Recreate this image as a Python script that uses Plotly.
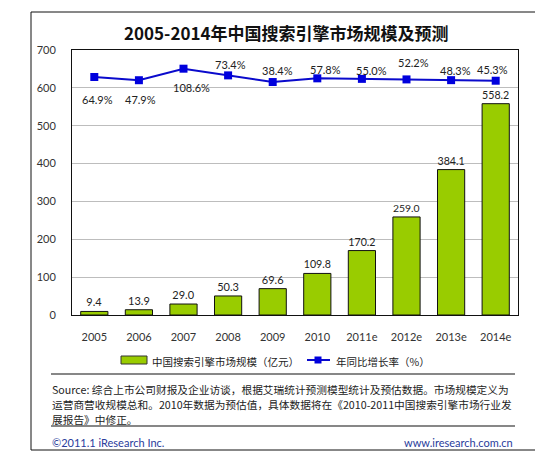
import plotly.graph_objects as go

# ---- data ----
years = ["2005", "2006", "2007", "2008", "2009", "2010", "2011e", "2012e", "2013e", "2014e"]
market_size = [9.4, 13.9, 29.0, 50.3, 69.6, 109.8, 170.2, 259.0, 384.1, 558.2]
growth_rate = [64.9, 47.9, 108.6, 73.4, 38.4, 57.8, 55.0, 52.2, 48.3, 45.3]
y_ticks = [0, 100, 200, 300, 400, 500, 600, 700]

title_text = "2005-2014年中国搜索引擎市场规模及预测"
bar_name = "中国搜索引擎市场规模（亿元）"
line_name = "年同比增长率（%）"
source_lines = [
    "Source: 综合上市公司财报及企业访谈，根据艾瑞统计预测模型统计及预估数据。市场规模定义为",
    "运营商营收规模总和。2010年数据为预估值，具体数据将在《2010-2011中国搜索引擎市场行业发",
    "展报告》中修正。",
]
footer_left = "©2011.1 iResearch Inc."
footer_right = "www.iresearch.com.cn"

# label offsets (style)
pct_yshift = [-23, -19, -19, 11, 12, 9, 8, 17, 10, 11]
pct_xshift = [3, 2, 8, 2, 5, 8, 10, 7, 4, -3]

W, H = 543, 455
L, R, T, B = 64, 510, 42, 307
FONT = "Lato, 'Noto Sans CJK SC', sans-serif"
CJK = "'Noto Sans CJK SC', sans-serif"


def px(x):
    return (x - L) / (R - L)


def py(y):
    return (B - y) / (B - T)


fig = go.Figure()
fig.add_trace(go.Bar(
    x=years, y=market_size, name=bar_name,
    marker=dict(color="#99CC00", line=dict(color="#111111", width=1)),
    width=0.61,
    text=[f"{v:.1f}" for v in market_size], textposition="outside",
    textfont=dict(size=11, color="#222222", family=FONT),
    cliponaxis=False,
))
fig.add_trace(go.Scatter(
    x=years, y=growth_rate, name=line_name, yaxis="y2",
    mode="lines+markers",
    line=dict(color="#0A0ACC", width=2),
    marker=dict(symbol="square", size=8, color="#0000DD"),
))

annotations = []
for i, (g, ys, xs) in enumerate(zip(growth_rate, pct_yshift, pct_xshift)):
    annotations.append(dict(
        x=i, y=g, xref="x", yref="y2", text=f"{g:.1f}%", showarrow=False,
        yshift=ys, xshift=xs, font=dict(size=11, color="#222222", family=FONT),
    ))

annotations.append(dict(
    x=px(278), y=py(24), xref="paper", yref="paper", text=f"<b>{title_text}</b>",
    showarrow=False, xanchor="center", yanchor="middle",
    font=dict(size=17, color="#111111", family=CJK),
))

# legend (custom)
shapes = []
shapes.append(dict(type="rect", xref="paper", yref="paper",
                   x0=px(113), x1=px(139), y0=py(356), y1=py(348),
                   fillcolor="#99CC00", line=dict(color="#333333", width=1)))
shapes.append(dict(type="line", xref="paper", yref="paper",
                   x0=px(299), x1=px(322), y0=py(352), y1=py(352),
                   line=dict(color="#0A0ACC", width=2)))
shapes.append(dict(type="rect", xref="paper", yref="paper",
                   x0=px(306.5), x1=px(313.5), y0=py(355.5), y1=py(348.5),
                   fillcolor="#0000DD", line=dict(width=0)))
annotations.append(dict(x=px(142), y=py(353), xref="paper", yref="paper", text=bar_name,
                        showarrow=False, xanchor="left", yanchor="middle",
                        font=dict(size=10.5, color="#222222", family=CJK)))
annotations.append(dict(x=px(326), y=py(353), xref="paper", yref="paper", text=line_name,
                        showarrow=False, xanchor="left", yanchor="middle",
                        font=dict(size=10.5, color="#222222", family=CJK)))

# separators and outer border
for yy in (366, 418):
    shapes.append(dict(type="line", xref="paper", yref="paper",
                       x0=px(43), x1=px(507), y0=py(yy), y1=py(yy),
                       line=dict(color="#111111", width=1.2)))
shapes.append(dict(type="rect", xref="paper", yref="paper",
                   x0=px(23), x1=px(528), y0=py(442), y1=py(4),
                   line=dict(color="#111111", width=1)))

# source text
for ln, yy in zip(source_lines, [381, 396, 411]):
    annotations.append(dict(x=px(42), y=py(yy), xref="paper", yref="paper", text=ln,
                            showarrow=False, xanchor="left", yanchor="middle",
                            font=dict(size=10.7, color="#222222", family=CJK)))
annotations.append(dict(x=px(42), y=py(434), xref="paper", yref="paper", text=footer_left,
                        showarrow=False, xanchor="left", yanchor="middle",
                        font=dict(size=11, color="#2A3C9C", family=FONT)))
annotations.append(dict(x=px(507), y=py(434), xref="paper", yref="paper", text=footer_right,
                        showarrow=False, xanchor="right", yanchor="middle",
                        font=dict(size=11, color="#2A3C9C", family=FONT)))

fig.update_layout(
    width=W, height=H,
    margin=dict(l=L, r=W - R, t=T, b=H - B),
    paper_bgcolor="white", plot_bgcolor="white",
    showlegend=False,
    xaxis=dict(
        type="category", range=[-0.5, len(years) - 0.5], autorange=False,
        showgrid=False, showline=True, linecolor="#111111", mirror=True,
        ticks="", tickfont=dict(size=11, color="#333333", family=FONT),
        ticklabelstandoff=12,
    ),
    yaxis=dict(
        range=[0, 700], tickvals=y_ticks, showgrid=True, gridcolor="#BDBDBD", gridwidth=1,
        showline=True, linecolor="#111111", mirror=True, zeroline=False,
        tickfont=dict(size=11, color="#333333", family=FONT), ticklabelstandoff=13,
    ),
    yaxis2=dict(range=[-1188, 207], overlaying="y", side="right", visible=False,
                showgrid=False),
    annotations=annotations,
    shapes=shapes,
)

fig.write_html("out.html")
